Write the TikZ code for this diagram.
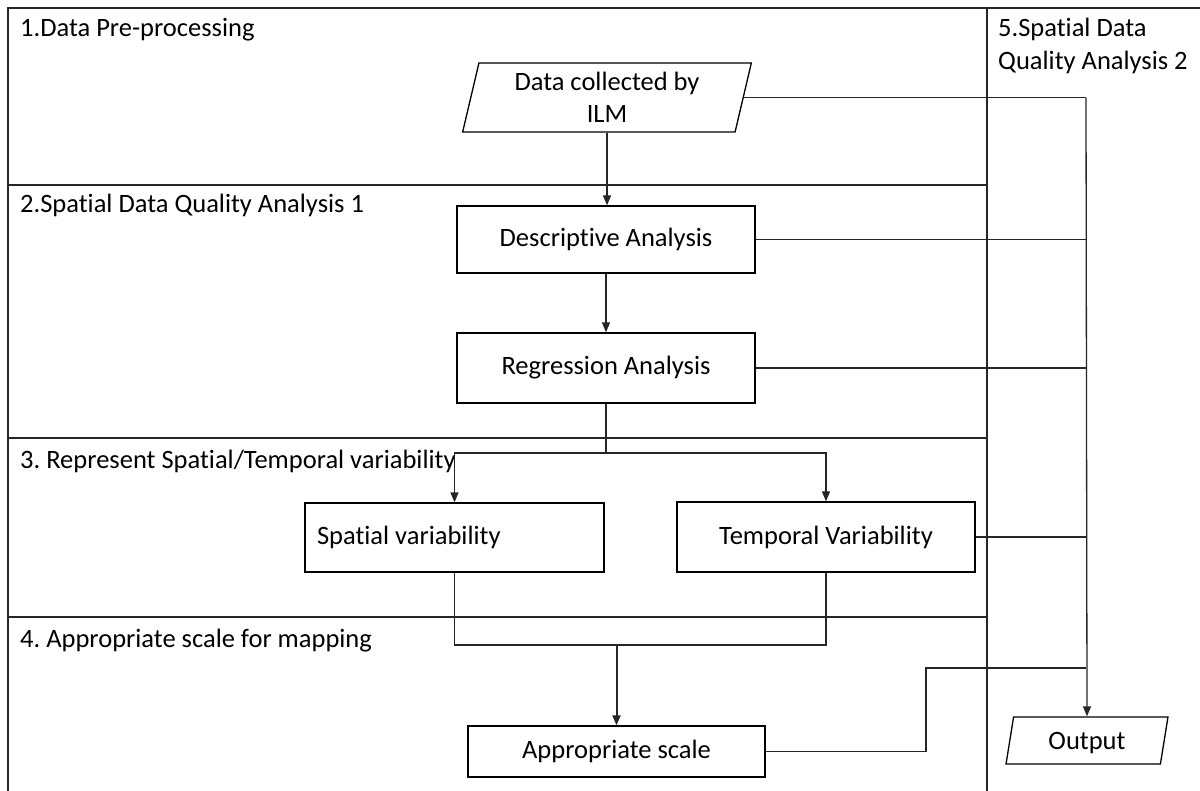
\documentclass[tikz,border=0pt]{standalone}
\usepackage{fontspec}
\setmainfont{Carlito}[Ligatures=NoCommon]
\usetikzlibrary{shapes.geometric,arrows.meta}
\frenchspacing
\begin{document}
\begin{tikzpicture}[x=1pt,y=-1pt,
  every node/.style={font=\fontsize{26.5}{32.5}\selectfont, inner sep=0pt},
  frame/.style={line width=1.3pt, draw=black!85},
  conn/.style={line width=1.3pt, draw=black!85},
  arr/.style={conn,-{Triangle[length=10pt,width=8pt]}},
  box/.style={draw=black, line width=1.3pt, rectangle, minimum width=298pt, align=center},
  para/.style={draw=black, line width=1.3pt, trapezium, trapezium left angle=77, trapezium right angle=103, trapezium stretches=true, align=center},
  lanelabel/.style={anchor=base west}]

\useasboundingbox (0,0) rectangle (1200,791);

% frame and lanes
\draw[frame] (1200,8) -- (8,8) -- (8,791);
\draw[frame] (987,8) -- (987,791);
\draw[frame] (8,185) -- (987,185);
\draw[frame, line width=2.3pt] (8,438) -- (987,438);
\draw[frame] (8,617) -- (987,617);

% lane labels
\node[lanelabel] (l1) at (20,37) {1.Data Pre-processing};
\node[lanelabel] (l2) at (20,213) {2.Spatial Data Quality Analysis 1};
\node[lanelabel] (l3) at (20,468) {3. Represent Spatial/Temporal variability};
\node[lanelabel] (l4) at (20,647) {4. Appropriate scale for mapping};
\node[anchor=north west, align=left] (l5) at (998,18) {5.Spatial Data\\Quality Analysis 2};

% nodes
\node[para, minimum width=289pt, minimum height=69pt] (data) at (607,97.5) {Data collected by\\ILM};
\node[box, minimum height=67pt] (desc) at (606,239.5) {Descriptive Analysis};
\node[box, minimum height=70pt] (regr) at (606,368) {Regression Analysis};
\node[box, minimum height=69pt, inner xsep=12pt, text width=275pt, align=flush left] (spat) at (454.5,537.5) {Spatial variability};
\node[box, minimum height=70pt] (temp) at (826,537) {Temporal Variability};
\node[box, minimum width=297pt, minimum height=51pt] (scale) at (616.5,751.5) {Appropriate scale};
\node[para, minimum width=163pt, minimum height=47pt, text depth=-1pt] (out) at (1087,740.5) {Output};

% connectors
\coordinate (trk) at (1086,98);
\draw[conn] (data.east) -- (data.east -| trk);
\draw[arr] (trk) -- (out.north);
\draw[conn] (desc.east) -- (desc.east -| trk);
\draw[conn] (regr.east) -- (regr.east -| trk);
\draw[conn] (temp.east) -- (temp.east -| trk);
\coordinate (sj) at (926,668);
\draw[conn] (scale.east) -| (sj) -- (sj -| trk);

\draw[arr] (data.south) -- (data.south |- desc.north);
\draw[arr] (desc) -- (regr);
\coordinate (split) at (606,453);
\draw[conn] (regr.south) -- (split);
\draw[arr] (split) -| (spat.north);
\draw[arr] (split) -| (temp.north);
\coordinate (merge) at (616.5,645);
\draw[conn] (spat.south) |- (temp.south |- merge) -- (temp.south);
\draw[arr, line width=2pt] (merge) -- (scale.north);
\end{tikzpicture}
\end{document}
